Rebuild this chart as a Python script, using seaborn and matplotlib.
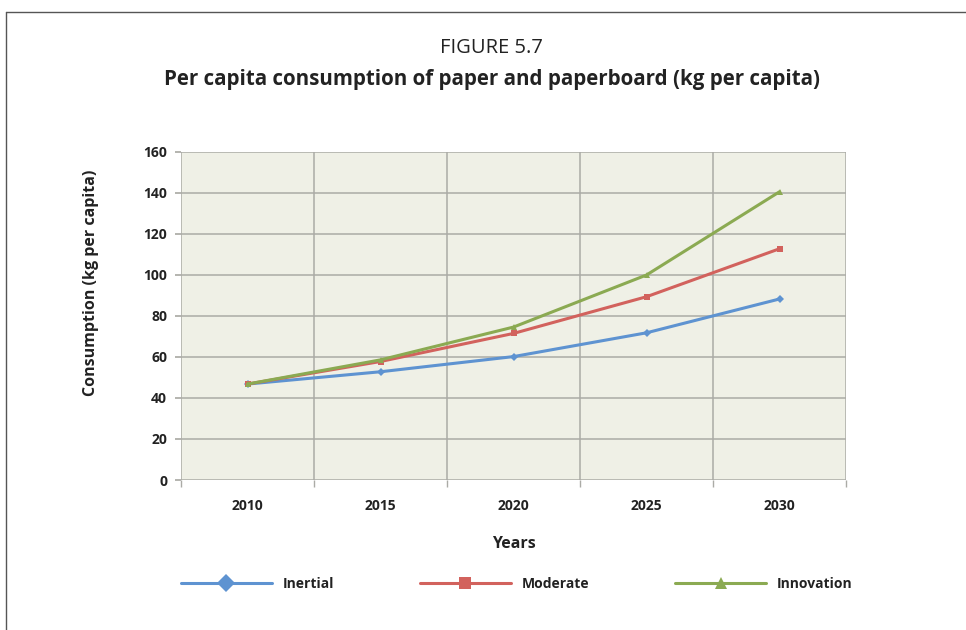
import numpy as np
import pandas as pd
import matplotlib
matplotlib.use("Agg")
import matplotlib.pyplot as plt
from matplotlib.lines import Line2D
import seaborn as sns

years = ["2010", "2015", "2020", "2025", "2030"]
inertial = [46.8, 52.8, 60.2, 71.8, 88.3]
moderate = [46.8, 57.8, 71.5, 89.4, 112.8]
innovation = [46.8, 58.6, 74.6, 100.0, 140.6]
series_names = ["Inertial", "Moderate", "Innovation"]
y_ticks = [0, 20, 40, 60, 80, 100, 120, 140, 160]

colors = {"Inertial": "#5E93D1", "Moderate": "#D2625D", "Innovation": "#8BAA52"}
markers = {"Inertial": "D", "Moderate": "s", "Innovation": "^"}

df = pd.DataFrame({
    "Years": years * 3,
    "value": inertial + moderate + innovation,
    "series": np.repeat(series_names, len(years)),
})

sns.set_theme(style="white")
plt.rcParams["font.family"] = ["Open Sans", "DejaVu Sans"]

fig = plt.figure(figsize=(9.66, 6.3), dpi=100)
ax = fig.add_axes([181 / 966, 1 - 480 / 630, (846 - 181) / 966, (480 - 152) / 630])
ax.set_facecolor("#EFF0E6")

sns.lineplot(data=df, x="Years", y="value", hue="series", style="series",
             palette=colors, markers=markers, dashes=False, markersize=4,
             markeredgewidth=0, linewidth=2.2, legend=False, ax=ax, sort=False)

ax.set_xlim(-0.5, 4.5)
ax.set_ylim(0, 160)
ax.set_yticks(y_ticks)
ax.set_xticks(range(len(years)))
ax.set_xticklabels(years)
ax.set_xticks(np.arange(-0.5, 5, 1), minor=True)
ax.grid(True, axis="y", which="major", color="#ABABA6", linewidth=1.1)
ax.grid(True, axis="x", which="minor", color="#ABABA6", linewidth=1.1)
for s in ax.spines.values():
    s.set_visible(False)
ax.tick_params(axis="y", which="major", length=4, color="#ABABA6", left=True, pad=6)
ax.tick_params(axis="x", which="major", length=0, pad=14)
ax.tick_params(axis="x", which="minor", length=5, color="#ABABA6", bottom=True)
for lab in ax.get_xticklabels() + ax.get_yticklabels():
    lab.set_fontweight("bold")
    lab.set_fontsize(10)
    lab.set_color("#222222")

ax.set_xlabel("Years", fontsize=11.5, fontweight="bold", color="#222222", labelpad=16)
ax.set_ylabel("Consumption (kg per capita)", fontsize=11.5, fontweight="bold",
              color="#222222", labelpad=32)
ax.yaxis.set_label_coords(-0.124, 0.60)

fig.text(0.509, 1 - 48 / 630, "FIGURE 5.7", ha="center", va="center", fontsize=14.5, color="#222222")
fig.text(0.509, 1 - 80 / 630, "Per capita consumption of paper and paperboard (kg per capita)",
         ha="center", va="center", fontsize=14.8, fontweight="bold", color="#222222")

handles = [Line2D([], [], color=colors[n], marker=markers[n], markersize=9,
                  markeredgewidth=0, linewidth=2.2) for n in series_names]
leg = fig.legend(handles, series_names, loc="center", bbox_to_anchor=(0.535, 1 - 584 / 630),
                 ncol=3, frameon=False, handlelength=6.5, columnspacing=6.2, handletextpad=0.8,
                 prop={"weight": "bold", "size": 10})
for t in leg.get_texts():
    t.set_color("#222222")

fig.add_artist(Line2D([6 / 966, 1], [1 - 12 / 630, 1 - 12 / 630], color="#555555", linewidth=1,
                      transform=fig.transFigure))
fig.add_artist(Line2D([6 / 966, 6 / 966], [0, 1 - 12 / 630], color="#555555", linewidth=1,
                      transform=fig.transFigure))

fig.savefig("out.png", dpi=100, facecolor="white")
